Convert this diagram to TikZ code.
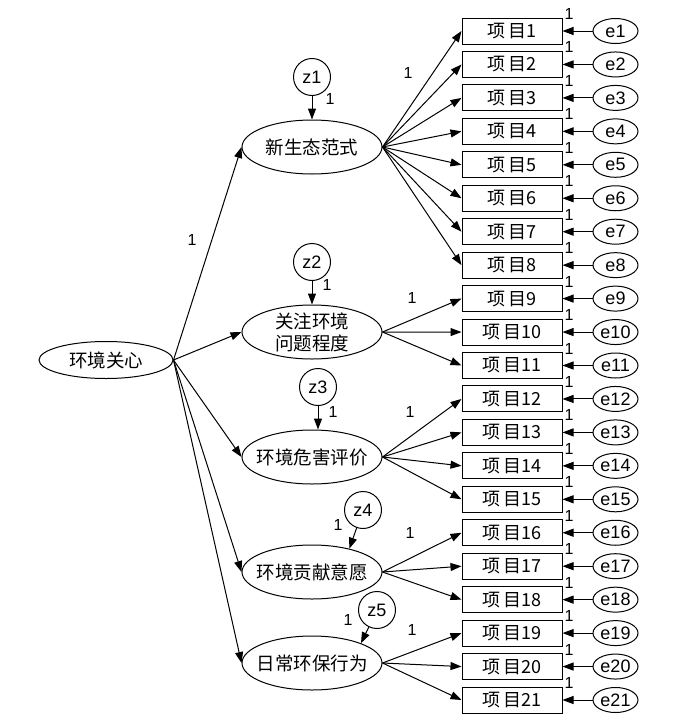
\documentclass[tikz,border=0pt]{standalone}
\usepackage{fontspec}
\setmainfont{Liberation Sans}
\newfontfamily\cjk{Noto Sans CJK SC}
\usetikzlibrary{arrows.meta,shapes.geometric}

\begin{document}
\begin{tikzpicture}[x=1pt, y=-1pt,
  arr/.style={-{Triangle[length=11pt,width=8pt]}, line width=1pt},
  latent/.style={draw, ellipse, line width=1pt, minimum width=140pt, minimum height=54pt, inner xsep=-8pt, inner ysep=-5pt, align=center, font=\cjk\fontsize{18.5}{22}\selectfont},
  item/.style={draw, rectangle, line width=1pt, minimum width=100pt, minimum height=26pt, inner sep=0pt, font=\cjk\fontsize{18}{20}\selectfont},
  err/.style={draw, ellipse, line width=1pt, minimum width=45pt, minimum height=25pt, inner sep=0pt, font=\fontsize{18}{20}\selectfont},
  dist/.style={draw, circle, line width=1pt, minimum size=37pt, inner sep=0pt, font=\fontsize{18}{20}\selectfont},
  lbl/.style={inner sep=0pt, font=\fontsize{16}{18}\selectfont}]
  \useasboundingbox (0,0) rectangle (700,718);

  % observed items with their errors
  \foreach \i in {1,...,21} {
    \pgfmathsetmacro\yy{31+(\i-1)*33.45}
    \node[item] (v\i) at (512,\yy) {项\hspace{3pt}目\i};
    \node[err] (e\i) at (615.5,\yy) {e\i};
    \draw[arr] (e\i) -- (v\i);
    \node[lbl] at (569,\yy-17) {1};
  }

  % second order factor
  \node[draw, ellipse, line width=1pt, minimum width=134pt, minimum height=37pt, inner sep=0pt,
        font=\cjk\fontsize{18.5}{22}\selectfont] (g) at (106,360) {环境关心};

  % first order factors
  \node[latent] (f1) at (312,147) {新生态范式};
  \node[latent] (f2) at (312,332) {关注环境\\问题程度};
  \node[latent] (f3) at (312,457) {环境危害评价};
  \node[latent] (f4) at (312,572) {环境贡献意愿};
  \node[latent] (f5) at (312,663) {日常环保行为};

  % disturbances
  \node[dist] (z1) at (312,77) {z1};
  \node[dist] (z2) at (312,262) {z2};
  \node[dist] (z3) at (318,387) {z3};
  \node[dist] (z4) at (363,510) {z4};
  \node[dist] (z5) at (377,610) {z5};
  \draw[arr] (z1) -- (f1);
  \draw[arr] (z2) -- (f2);
  \draw[arr] (z3.south) -- (z3.south |- f3.north);
  \draw[arr] (z4) -- (f4.32);
  \draw[arr] (z5) -- (f5.22);
  \node[lbl] at (330,99) {1};
  \node[lbl] at (327,285) {1};
  \node[lbl] at (333,412) {1};
  \node[lbl] at (338,525) {1};
  \node[lbl] at (348,620) {1};

  % loadings
  \foreach \f in {f1,f2,f3,f4,f5} { \draw[arr] (g.east) -- (\f.west); }
  \node[lbl] at (192,240) {1};
  \foreach \f/\a/\b in {f1/1/8, f2/9/11, f3/12/15, f4/16/18, f5/19/21} {
    \foreach \i in {\a,...,\b} { \draw[arr] (\f.east) -- (v\i.west); }
  }
  \node[lbl] at (408,73) {1};
  \node[lbl] at (412,298) {1};
  \node[lbl] at (410,412) {1};
  \node[lbl] at (410,533) {1};
  \node[lbl] at (412,630) {1};
\end{tikzpicture}
\end{document}
